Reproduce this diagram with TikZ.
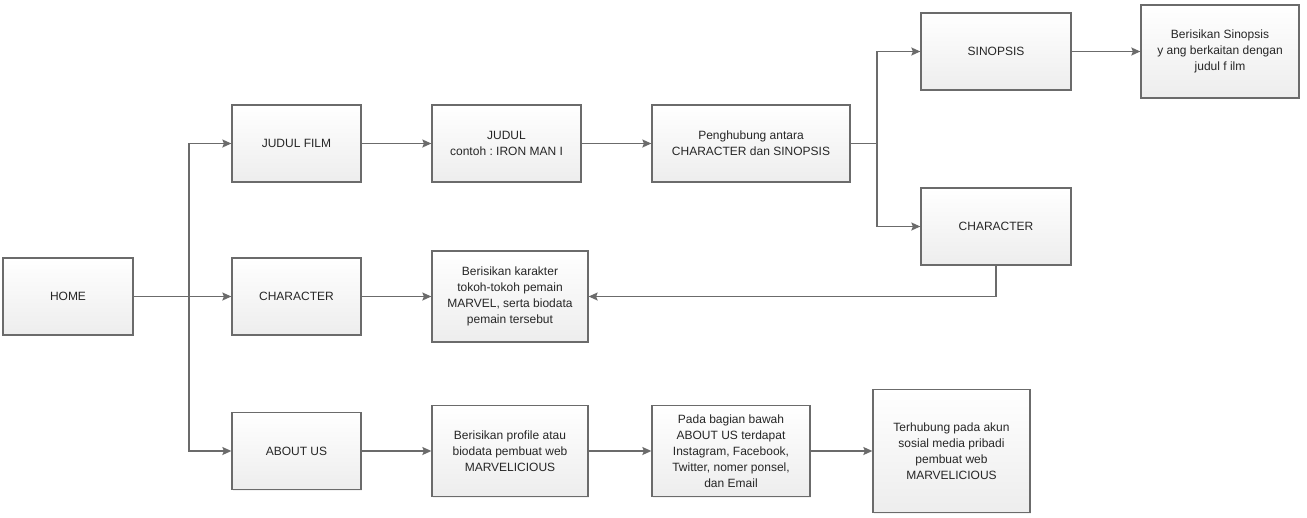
\documentclass[tikz,border=0pt]{standalone}
\usepackage{fontspec}
\setmainfont{Liberation Sans}
\usetikzlibrary{shadows, arrows.meta}

\definecolor{lineGray}{HTML}{6B6B6B}
\definecolor{boxTop}{HTML}{FFFFFF}
\definecolor{boxBottom}{HTML}{EDEDED}
\definecolor{textGray}{HTML}{262626}

\tikzset{
  box/.style={draw=lineGray, line width=1.3pt, top color=boxTop, bottom color=boxBottom,
    align=center, inner sep=2pt, text=textGray, font=\fontsize{12}{16}\selectfont,
    drop shadow={shadow xshift=1.2pt, shadow yshift=-1.2pt, fill=black!10, opacity=.5}},
  link/.style={draw=lineGray, line width=1.3pt},
  tip/.style={-{Stealth[length=9pt, width=8pt, inset=1.5pt]}}
}

\begin{document}
\begin{tikzpicture}[x=1pt, y=-1pt]
  \useasboundingbox (0,0) rectangle (1307,517);

  % left column
  \node [box, minimum width=130, minimum height=77] (home) at (68,296.5) {HOME};
  \node [box, minimum width=129, minimum height=77] (film) at (296.5,143.5) {JUDUL FILM};
  \node [box, minimum width=129, minimum height=77] (charL) at (296.5,296.5) {CHARACTER};
  \node [box, minimum width=129, minimum height=77] (about) at (296.5,451) {ABOUT US};

  % second column
  \node [box, minimum width=149, minimum height=77] (judul) at (506.5,143.5) {JUDUL\\contoh :\ IRON MAN I};
  \node [box, minimum width=156, minimum height=91] (isiChar) at (510,296.5)
    {Berisikan karakter\\tokoh-tokoh pemain\\MARVEL, serta biodata\\pemain tersebut};
  \node [box, minimum width=156, minimum height=91] (isiAbout) at (510,451)
    {Berisikan profile atau\\biodata pembuat web\\MARVELICIOUS};

  % third column
  \node [box, minimum width=198, minimum height=77] (hub) at (751,143.5)
    {Penghubung antara\\CHARACTER dan SINOPSIS};
  \node [box, minimum width=158, minimum height=91] (bawah) at (731,451)
    {Pada bagian bawah\\ABOUT US terdapat\\Instagram, Facebook,\\Twitter, nomer ponsel,\\dan Email};
  \node [box, minimum width=157, minimum height=123] (sosmed) at (951.5,451)
    {Terhubung pada akun\\sosial media pribadi\\pembuat web\\MARVELICIOUS};

  % right part
  \node [box, minimum width=150, minimum height=77] (sinopsis) at (996,51.5) {SINOPSIS};
  \node [box, minimum width=150, minimum height=77] (charR) at (996,226.5) {CHARACTER};
  \node [box, minimum width=158, minimum height=93] (isiSinopsis) at (1220,51.5)
    {Berisikan Sinopsis\\y ang berkaitan dengan\\judul f ilm};

  \coordinate (split) at (189,296.5);
  \coordinate (fork) at (877,143.5);

  \begin{scope}[link, tip]
    \draw (home) -- (charL);
    \draw (split) |- (film);
    \draw (split) |- (about);
    \draw (film) -- (judul);
    \draw (judul) -- (hub);
    \draw (fork) |- (sinopsis);
    \draw (fork) |- (charR);
    \draw (sinopsis) -- (isiSinopsis);
    \draw (charR) |- (isiChar);
    \draw (charL) -- (isiChar);
    \draw (about) -- (isiAbout);
    \draw (isiAbout) -- (bawah);
    \draw (bawah) -- (sosmed);
  \end{scope}

  \begin{scope}[link]
    \draw (hub) -- (fork);
  \end{scope}
\end{tikzpicture}
\end{document}
